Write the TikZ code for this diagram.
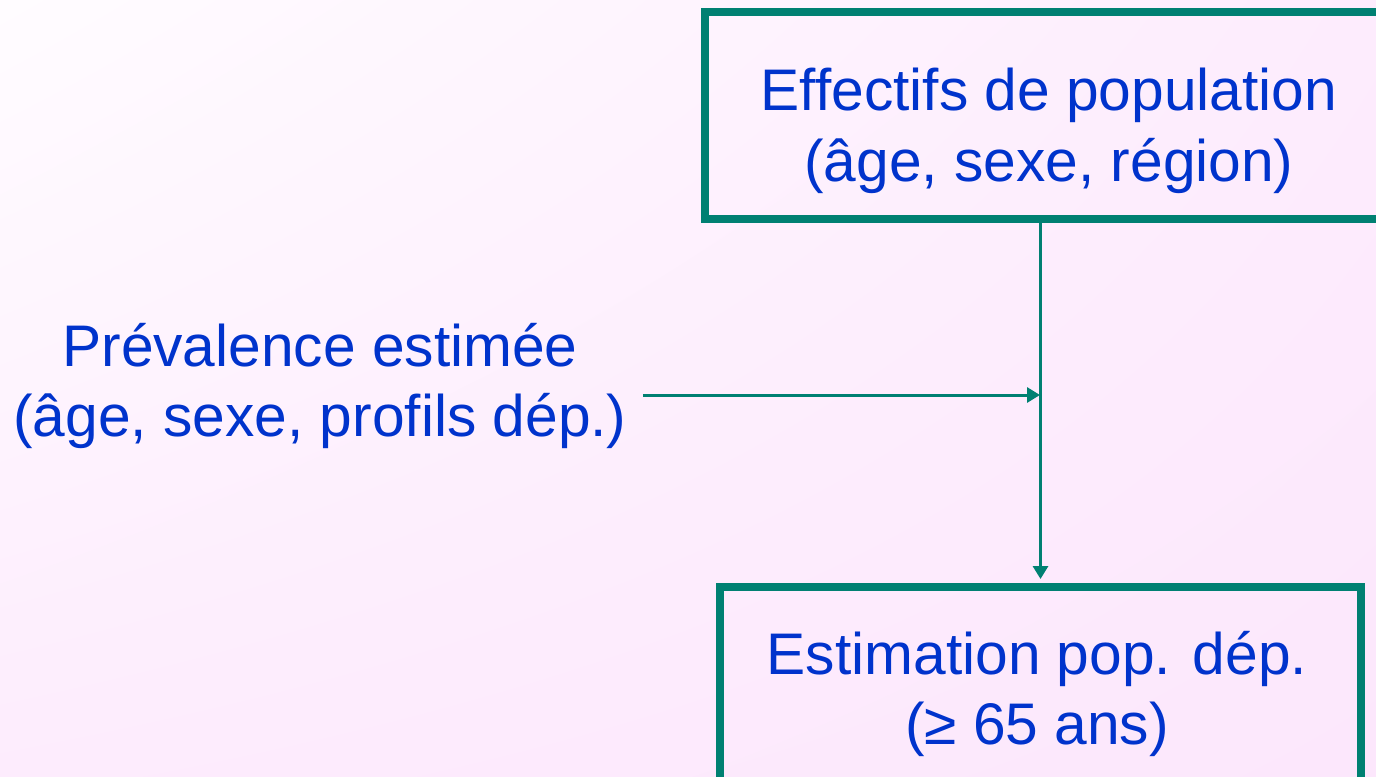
\documentclass[tikz,border=0pt]{standalone}
\usepackage{fontspec}
\setmainfont{Liberation Sans}
\usetikzlibrary{arrows.meta,shadings}
\definecolor{boxteal}{RGB}{0,128,114}
\definecolor{txtblue}{RGB}{0,51,204}
\definecolor{bgwhite}{RGB}{255,252,255}
\definecolor{bgmid}{RGB}{253,236,253}
\definecolor{bgpink}{RGB}{252,231,252}
\tikzset{
  boxframe/.style={draw=boxteal, line width=0.16cm, inner sep=0pt},
  boxtext/.style={text=txtblue, align=center, font=\fontsize{33.4}{40.3}\selectfont},
  link/.style={draw=boxteal, line width=0.06cm, -{Triangle[length=0.26cm,width=0.3cm]}}
}

\begin{document}
\begin{tikzpicture}[x=0.02cm,y=-0.02cm]
  %%%%% START %%%%%
  \def\W{1376}
  \def\H{777}
  \useasboundingbox (0,0) rectangle (\W,\H);
  \clip (0,0) rectangle (\W,\H);
  \shade[upper left=bgwhite, upper right=bgmid, lower left=bgmid, lower right=bgpink] (0,0) rectangle (\W,\H);

  \node[boxframe, minimum width=13.76cm, minimum height=4.14cm] (popbox) at (1049,115.5) {};
  \node[boxtext] (poptext) at (1049,131) {Effectifs de population\\(âge, sexe, région)};

  \node[boxframe, minimum width=12.82cm, minimum height=4.12cm] (estbox) at (1040.5,690) {};
  \node[boxtext] (esttext) at (1037,694) {Estimation pop. dép.\\(≥ 65 ans)};

  \node[boxtext, inner sep=0.32cm] (prev) at (320,386) {Prévalence estimée\\(âge, sexe, profils dép.)};
  \coordinate (join) at (1040,395);

  \draw[link, shorten >=0.08cm] (estbox.north |- popbox.south) -- (estbox.north);
  \draw[link] (prev.east |- join) -- (join);
  %%%%% END %%%%%
\end{tikzpicture}
\end{document}
